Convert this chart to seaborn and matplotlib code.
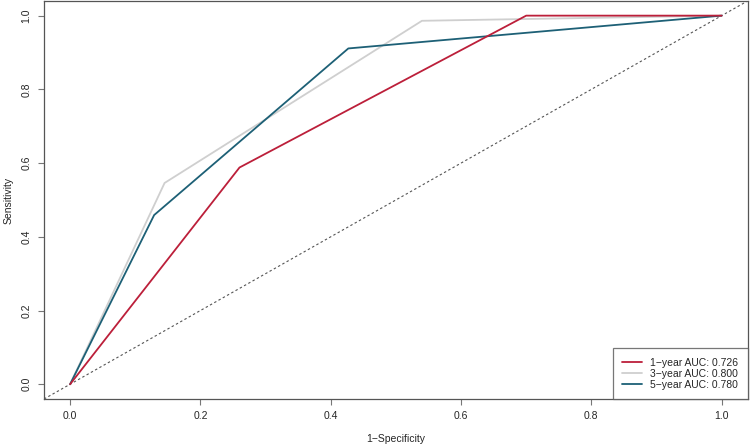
import pandas as pd
import matplotlib.pyplot as plt
import seaborn as sns

# ROC points
fpr_1y = [0.0, 0.26, 0.70, 1.0]
tpr_1y = [0.0, 0.588, 1.0, 1.0]
fpr_3y = [0.0, 0.145, 0.54, 1.0]
tpr_3y = [0.0, 0.546, 0.986, 1.0]
fpr_5y = [0.0, 0.129, 0.427, 1.0]
tpr_5y = [0.0, 0.459, 0.911, 1.0]

labels = ['1\u2212year AUC: 0.726', '3\u2212year AUC: 0.800', '5\u2212year AUC: 0.780']
colors = ['#BC1F3A', '#CFCFCF', '#1D6076']
ticks = [0.0, 0.2, 0.4, 0.6, 0.8, 1.0]

sns.set_style('ticks')
plt.rcParams['font.family'] = ['Liberation Sans', 'DejaVu Sans']

fig = plt.figure(figsize=(7.5, 4.46), dpi=100)
ax = fig.add_axes([0.0587, 0.1054, 0.9383, 0.8926])

# diagonal reference
ax.axline((0, 0), (1, 1), ls=(0, (2.2, 2.2)), color='#555555', lw=0.8, zorder=1)

series = [(fpr_1y, tpr_1y, 4), (fpr_3y, tpr_3y, 2), (fpr_5y, tpr_5y, 3)]
for (fx, ty, z), lab, col in zip(series, labels, colors):
    df = pd.DataFrame({'fpr': fx, 'tpr': ty})
    sns.lineplot(data=df, x='fpr', y='tpr', sort=False, estimator=None,
                 color=col, lw=1.3, label=lab, ax=ax, zorder=z)

ax.set_xlim(-0.04, 1.04)
ax.set_ylim(-0.04, 1.04)
ax.set_xticks(ticks)
ax.set_yticks(ticks)
ax.set_xticklabels([f'{t:.1f}' for t in ticks], fontsize=7.5)
ax.set_yticklabels([f'{t:.1f}' for t in ticks], fontsize=7.5, rotation=90, va='center')
ax.tick_params(length=4, width=0.8, color='#777777', pad=5)
for s in ax.spines.values():
    s.set_color('#555555')
    s.set_linewidth(0.9)
    s.set_visible(True)

ax.set_xlabel('1\u2212Specificity', fontsize=7.5, labelpad=9)
ax.set_ylabel('Sensitivity', fontsize=7.5, labelpad=6)

leg = ax.legend(loc='lower right', fontsize=7.5, frameon=True, fancybox=False,
                borderaxespad=0, handlelength=1.9, handletextpad=0.8,
                borderpad=0.9, labelspacing=0.1)
leg.get_frame().set_edgecolor('#555555')
leg.get_frame().set_linewidth(0.9)

plt.savefig('out.png', dpi=100)
